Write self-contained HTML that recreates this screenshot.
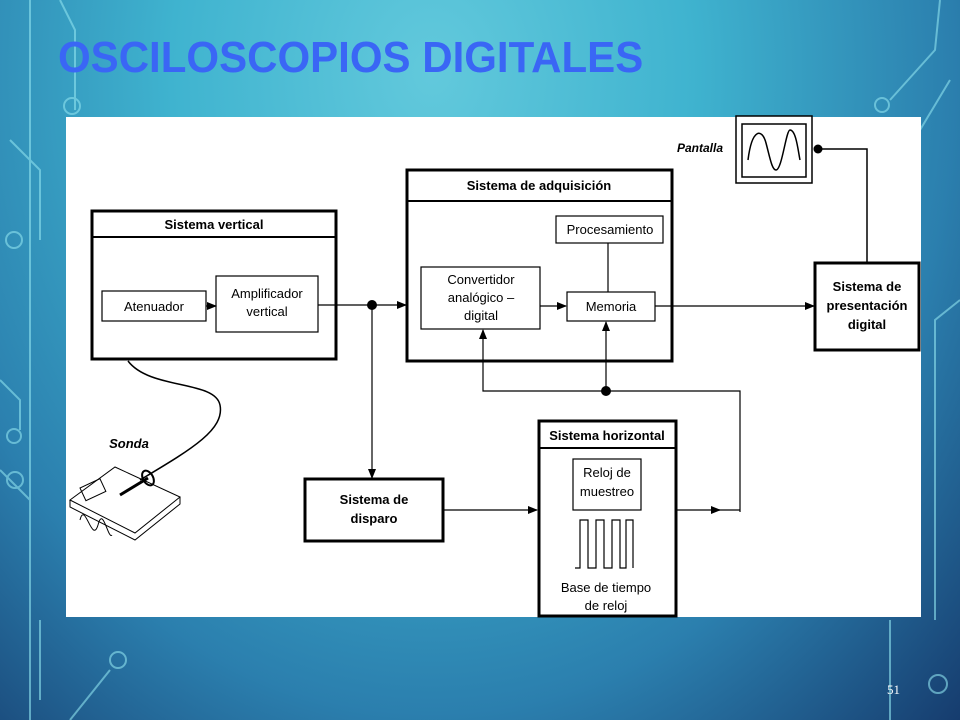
<!DOCTYPE html>
<html><head><meta charset="utf-8"><style>
html,body{margin:0;padding:0;width:960px;height:720px;overflow:hidden}
body{background:radial-gradient(ellipse at 45% 10%,#62c9dc 0%,#3fb3cf 35%,#2b7fae 70%,#163c6e 100%);position:relative;font-family:"Liberation Sans",sans-serif}
.t{position:absolute;left:58px;top:33px;font-size:44px;font-weight:bold;color:#3a66f5;white-space:nowrap;transform:scaleX(0.955);transform-origin:left}
.n{position:absolute;left:887px;top:682px;font-family:"Liberation Serif",serif;font-size:13px;color:#fff}
svg{position:absolute;left:0;top:0}
</style></head><body>
<svg width="960" height="720">
<g stroke="#8fe3ef" stroke-width="2" fill="none" opacity="0.6">
<path d="M30 0 V720"/><path d="M60 0 L75 30 V110"/><circle cx="72" cy="106" r="8"/>
<path d="M10 140 L40 170 V240"/><circle cx="14" cy="240" r="8"/>
<path d="M0 380 L20 400 V430"/><circle cx="14" cy="436" r="7"/>
<path d="M0 470 L30 500"/><circle cx="15" cy="480" r="8"/>
<path d="M940 0 L935 50 L890 100"/><circle cx="882" cy="105" r="7"/>
<path d="M950 80 L920 130"/><path d="M960 300 L935 320 V620"/>
<path d="M890 620 V720"/><circle cx="938" cy="684" r="9"/>
<path d="M70 720 L110 670"/><circle cx="118" cy="660" r="8"/>
<path d="M40 620 L40 700"/>
</g>
<rect x="66" y="117" width="855" height="500" fill="#fff"/>
<defs><marker id="a" markerWidth="10" markerHeight="8" refX="9" refY="4" orient="auto" markerUnits="userSpaceOnUse"><path d="M0 0 L10 4 L0 8Z" fill="#000"/></marker></defs>
<g stroke="#000" fill="none">
<rect x="736" y="116" width="76" height="67" stroke-width="1.5" fill="#fff"/>
<rect x="742" y="124" width="64" height="53" stroke-width="1.5"/>
<path d="M748 160 C752 128,762 128,766 143 C770 158,772 170,776 170 C782 170,786 130,790 130 C796 130,798 150,800 160" stroke-width="1.5"/>
<path d="M818 149 H867 V262" stroke-width="1.5"/>
<rect x="92" y="211" width="244" height="148" stroke-width="3"/><path d="M92 237 H336" stroke-width="2"/>
<rect x="102" y="291" width="104" height="30" stroke-width="1.2"/>
<rect x="216" y="276" width="102" height="56" stroke-width="1.2"/>
<path d="M206 306 H216" stroke-width="1.2" marker-end="url(#a)"/>
<path d="M318 305 H406" stroke-width="1.2" marker-end="url(#a)"/>
<path d="M372 305 V478" stroke-width="1.2" marker-end="url(#a)"/>
<rect x="407" y="170" width="265" height="191" stroke-width="3"/><path d="M407 201 H672" stroke-width="2"/>
<rect x="421" y="267" width="119" height="62" stroke-width="1.2"/>
<rect x="556" y="216" width="107" height="27" stroke-width="1.2"/>
<rect x="567" y="292" width="88" height="29" stroke-width="1.2"/>
<path d="M608 243 V292" stroke-width="1.2"/>
<path d="M540 306 H566" stroke-width="1.2" marker-end="url(#a)"/>
<path d="M655 306 H814" stroke-width="1.2" marker-end="url(#a)"/>
<rect x="815" y="263" width="104" height="87" stroke-width="3"/>
<path d="M740 512 V391 H483 V330" stroke-width="1.2" marker-end="url(#a)"/>
<path d="M606 391 V322" stroke-width="1.2" marker-end="url(#a)"/>
<rect x="305" y="479" width="138" height="62" stroke-width="3"/>
<path d="M443 510 H537" stroke-width="1.2" marker-end="url(#a)"/>
<rect x="539" y="421" width="137" height="195" stroke-width="3"/><path d="M539 448 H676" stroke-width="2"/>
<rect x="573" y="459" width="68" height="51" stroke-width="1.2"/>
<path d="M575 568 H580 V520 H588 V568 H596 V520 H604 V568 H612 V520 H620 V568 H626 V520 H633 V568" stroke-width="1.2"/>
<path d="M676 510 H720" stroke-width="1.2" marker-end="url(#a)"/><path d="M718 510 H740" stroke-width="1.2"/>
<path d="M128 361 C150 390,215 380,220 405 C225 430,190 450,140 480" stroke-width="1.5"/>
<path d="M70 500 L115 467 L180 497 L135 533 Z M70 500 V507 L135 540 L180 504 V497" stroke-width="1"/>
<path d="M120 495 L148 478" stroke-width="3"/>
<ellipse cx="148" cy="478" rx="5" ry="8" stroke-width="2" transform="rotate(-30 148 478)"/>
<rect x="80" y="488" width="22" height="14" stroke-width="1" transform="rotate(-25 80 488)"/>
<path d="M80 520 C85 500,92 545,98 525 C103 505,108 540,112 535" stroke-width="1"/>
</g>
<g fill="#000"><circle cx="818" cy="149" r="4.5"/><circle cx="372" cy="305" r="5"/><circle cx="606" cy="391" r="5"/></g>
<g font-family="Liberation Sans,sans-serif" font-size="13" text-anchor="middle" fill="#000">
<text x="700" y="152" font-weight="bold" font-style="italic" font-size="12">Pantalla</text>
<text x="214" y="229" font-weight="bold">Sistema vertical</text>
<text x="154" y="311">Atenuador</text>
<text x="267" y="298">Amplificador</text><text x="267" y="316">vertical</text>
<text x="539" y="190" font-weight="bold">Sistema de adquisición</text>
<text x="481" y="284">Convertidor</text><text x="481" y="302">analógico –</text><text x="481" y="320">digital</text>
<text x="610" y="234">Procesamiento</text>
<text x="611" y="311">Memoria</text>
<text x="867" y="291" font-weight="bold">Sistema de</text><text x="867" y="310" font-weight="bold">presentación</text><text x="867" y="329" font-weight="bold">digital</text>
<text x="374" y="504" font-weight="bold">Sistema de</text><text x="374" y="523" font-weight="bold">disparo</text>
<text x="607" y="440" font-weight="bold">Sistema horizontal</text>
<text x="607" y="477">Reloj de</text><text x="607" y="496">muestreo</text>
<text x="606" y="592">Base de tiempo</text><text x="606" y="610">de reloj</text>
<text x="129" y="448" font-weight="bold" font-style="italic">Sonda</text>
</g>
</svg>
<div class="t">OSCILOSCOPIOS DIGITALES</div>
<div class="n">51</div>
</body></html>
